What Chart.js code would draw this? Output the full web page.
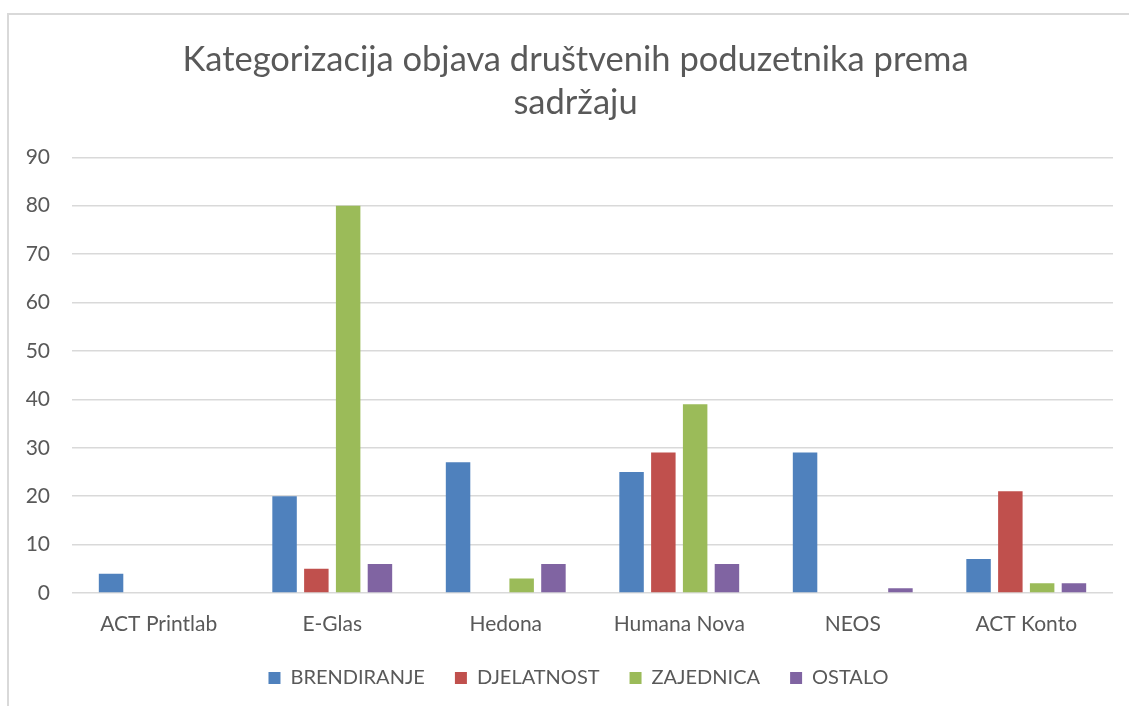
<!DOCTYPE html>
<html>
<head>
<meta charset="utf-8">
<script src="https://cdn.jsdelivr.net/npm/chart.js@4.4.1/dist/chart.umd.min.js"></script>
<style>
  html, body { margin: 0; padding: 0; background: #fff; }
  #wrap { width: 1129px; height: 706px; position: relative; }
</style>
</head>
<body>
<div id="wrap"><canvas id="objaveChart" width="1129" height="706"></canvas></div>
<script>
// podaci sa grafa
const kategorije = ['ACT Printlab', 'E-Glas', 'Hedona', 'Humana Nova', 'NEOS', 'ACT Konto'];
const brendiranje = [4, 20, 27, 25, 29, 7];
const djelatnost = [0, 5, 0, 29, 0, 21];
const zajednica = [0, 80, 3, 39, 0, 2];
const ostalo = [0, 6, 6, 6, 1, 2];
const yTicks = [0, 10, 20, 30, 40, 50, 60, 70, 80, 90];

const textColor = '#595959';
const fontFamily = 'Lato, "Open Sans", sans-serif';

// okvir oko cijelog grafa (kao u Excelu)
const okvir = {
  id: 'okvir',
  beforeDraw(chart) {
    const ctx = chart.ctx;
    ctx.save();
    ctx.fillStyle = '#fff';
    ctx.fillRect(0, 0, chart.width, chart.height);
    ctx.strokeStyle = '#d9d9d9';
    ctx.lineWidth = 2;
    ctx.strokeRect(8, 14, chart.width + 10, chart.height + 10);
    ctx.restore();
  }
};

// naslov i legenda su u originalu malo pomaknuti udesno
const pomak = {
  id: 'pomak',
  afterLayout(chart) {
    if (chart.legend) {
      chart.legend.left += 22;
      chart.legend.right += 22;
    }
    if (chart.titleBlock) {
      chart.titleBlock.left += 19;
      chart.titleBlock.right += 19;
    }
  }
};

const serija = (label, data, color) => ({
  label: label,
  data: data,
  backgroundColor: color,
  borderWidth: 0,
  barPercentage: 0.77,
  categoryPercentage: 0.733
});

const config = {
  type: 'bar',
  data: {
    labels: kategorije,
    datasets: [
      serija('BRENDIRANJE', brendiranje, '#4f81bd'),
      serija('DJELATNOST', djelatnost, '#c0504d'),
      serija('ZAJEDNICA', zajednica, '#9bbb59'),
      serija('OSTALO', ostalo, '#8064a2')
    ]
  },
  plugins: [okvir, pomak],
  options: {
    responsive: false,
    animation: false,
    layout: { padding: { left: 0, right: 16, top: 0, bottom: 8 } },
    plugins: {
      title: {
        display: true,
        text: ['Kategorizacija objava društvenih poduzetnika prema', 'sadržaju'],
        color: textColor,
        font: { family: fontFamily, size: 34.5, weight: 'normal', lineHeight: 1.25 },
        padding: { top: 38, bottom: 33 }
      },
      legend: {
        position: 'bottom',
        labels: {
          color: textColor,
          font: { family: fontFamily, size: 20 },
          boxWidth: 12,
          boxHeight: 12,
          padding: 30
        }
      },
      tooltip: { enabled: false }
    },
    scales: {
      x: {
        grid: { display: false, drawTicks: false },
        border: { display: false },
        ticks: {
          color: textColor,
          font: { family: fontFamily, size: 21 },
          padding: 19,
          maxRotation: 0
        },
        afterFit(scale) { scale.height = 45; }
      },
      y: {
        min: 0,
        max: 90,
        afterBuildTicks(scale) { scale.ticks = yTicks.map(v => ({ value: v })); },
        grid: { color: '#d9d9d9', lineWidth: 1.5, drawTicks: false },
        border: { display: false },
        ticks: {
          color: textColor,
          font: { family: fontFamily, size: 21 },
          padding: 22
        },
        afterFit(scale) { scale.width = 72; }
      }
    }
  }
};

new Chart(document.getElementById('objaveChart').getContext('2d'), config);
</script>
</body>
</html>
